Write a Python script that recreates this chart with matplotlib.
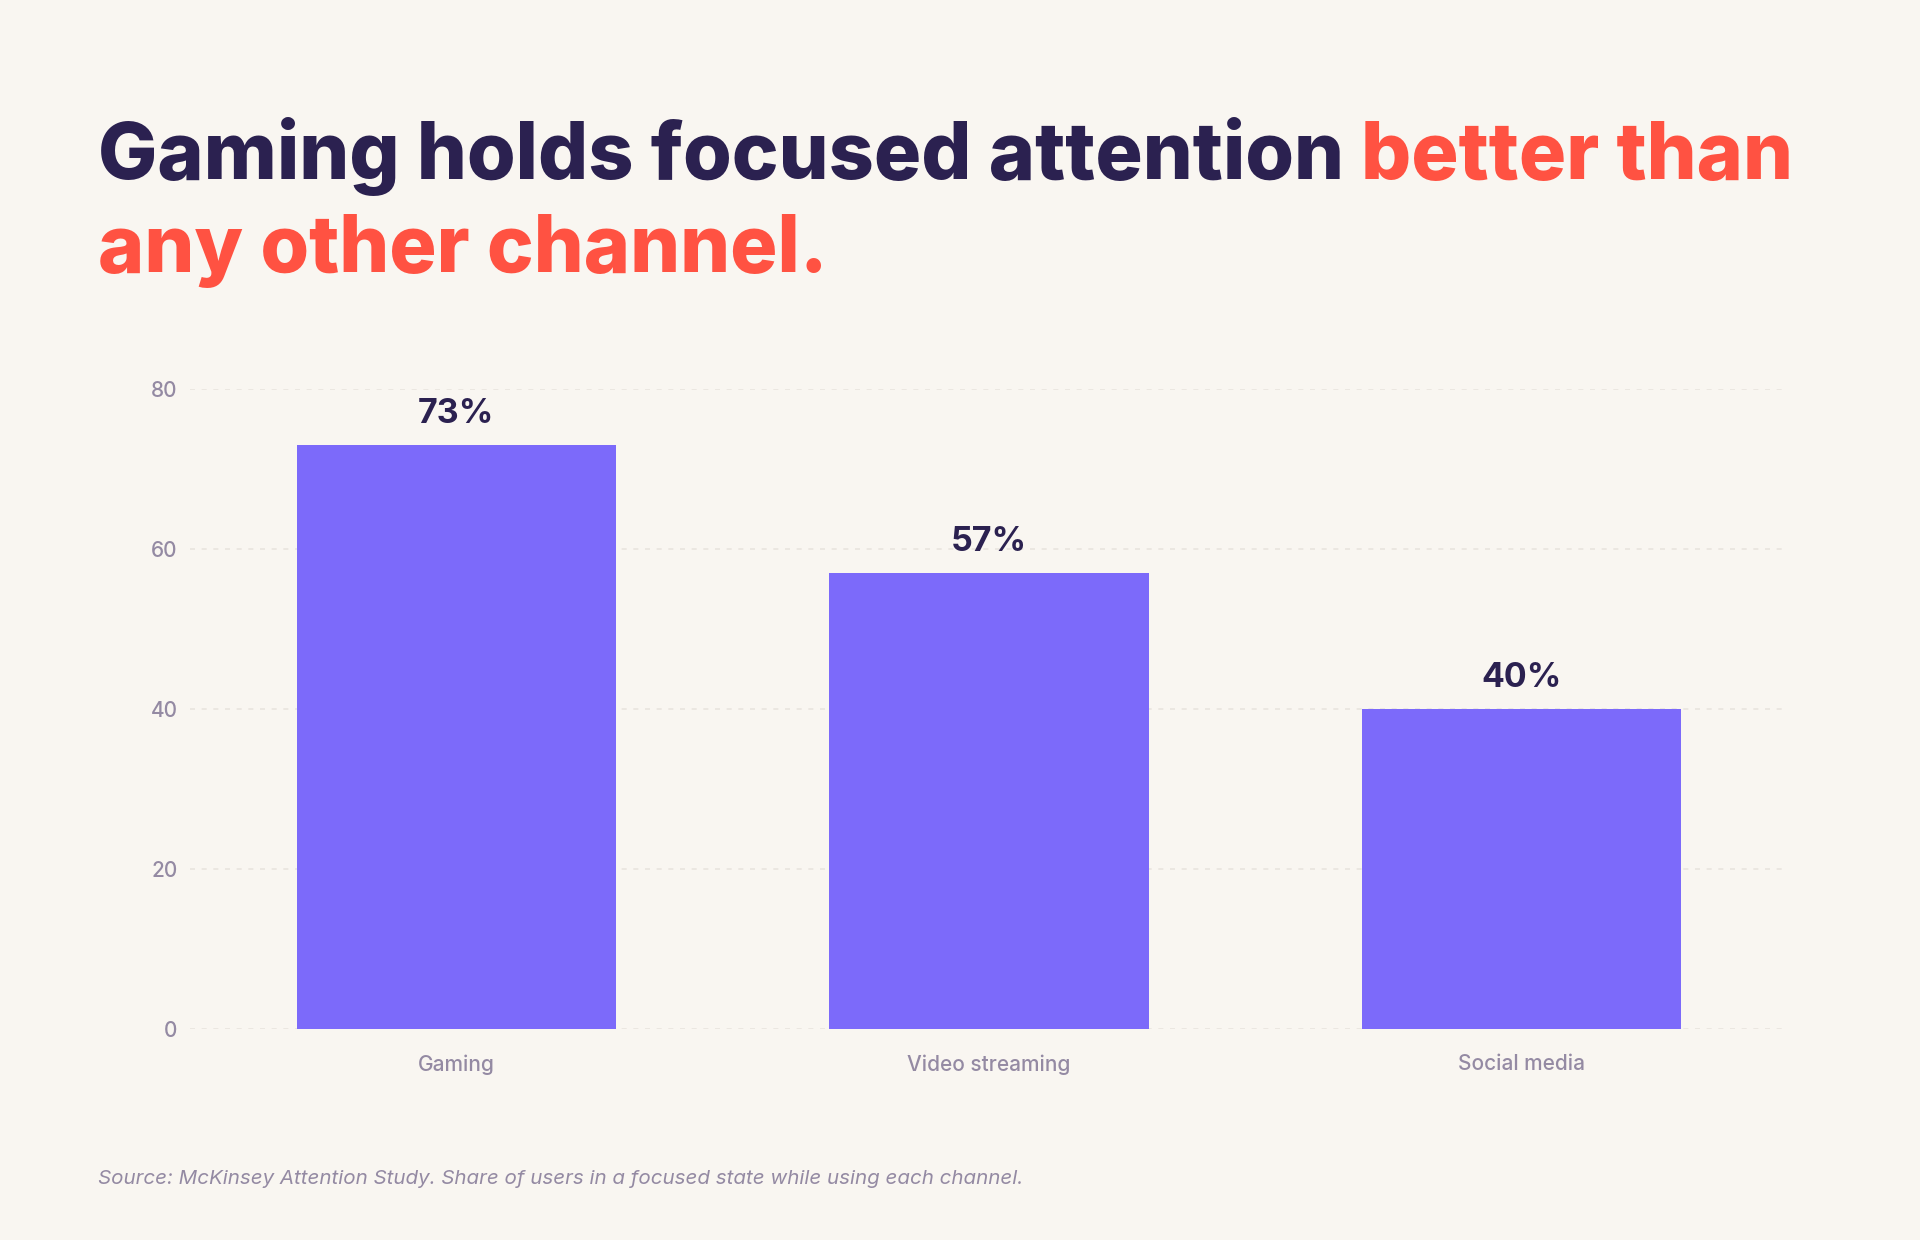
import matplotlib
matplotlib.use("Agg")
import matplotlib.pyplot as plt
import numpy as np

# data
channels = ["Gaming", "Video streaming", "Social media"]
focused_share = [73, 57, 40]
y_ticks = [0, 20, 40, 60, 80]

BG = "#f9f6f1"
NAVY = "#2b2150"
RED = "#ff5242"
PURPLE = "#7c6afa"
GREY = "#948aa3"
GRID = "#e9e4de"
FAM = ["Inter", "Lato", "DejaVu Sans"]

plt.rcParams["font.family"] = FAM

fig = plt.figure(figsize=(19.2, 12.4), dpi=100, facecolor=BG)
ax = fig.add_axes([0.099, 0.170, 0.832, 0.516], facecolor=BG)

x = np.arange(len(channels))
bars = ax.bar(x, focused_share, width=0.6, color=PURPLE, zorder=3)

for xi, val in zip(x, focused_share):
    ax.annotate(f"{val}%", (xi, val), xytext=(0, 11), textcoords="offset points",
                ha="center", va="bottom", fontsize=24.5, fontweight="bold",
                color=NAVY, annotation_clip=False)

ax.set_xlim(-0.5, len(channels) - 0.5)
ax.set_ylim(0, 80)
ax.set_yticks(y_ticks)
ax.set_xticks(x)
ax.set_xticklabels(channels, fontweight="medium")
for lab in ax.get_yticklabels():
    lab.set_fontweight("medium")
ax.tick_params(axis="both", length=0, labelsize=15, labelcolor=GREY)
ax.tick_params(axis="x", pad=18)
ax.tick_params(axis="y", pad=9)
ax.yaxis.grid(True, color=GRID, linestyle=(0, (3, 4)), linewidth=1.2, zorder=0)
ax.set_axisbelow(True)
for sp in ax.spines.values():
    sp.set_visible(False)

# title, two colours on line one
TSIZE = 56.8
t1 = fig.text(0.051, 0.856, "Gaming holds focused attention ", fontsize=TSIZE,
              fontweight="heavy", color=NAVY, ha="left", va="baseline")
fig.canvas.draw()
bb = t1.get_window_extent()
fig.text(bb.x1 / fig.bbox.width, 0.856, "better than", fontsize=TSIZE,
         fontweight="heavy", color=RED, ha="left", va="baseline")
fig.text(0.051, 0.781, "any other channel.", fontsize=TSIZE,
         fontweight="heavy", color=RED, ha="left", va="baseline")

fig.text(0.051, 0.045, "Source: McKinsey Attention Study. Share of users in a focused state while using each channel.",
         fontsize=14.8, style="italic", color=GREY, ha="left", va="baseline")

fig.savefig("out.png", dpi=100, facecolor=BG)
